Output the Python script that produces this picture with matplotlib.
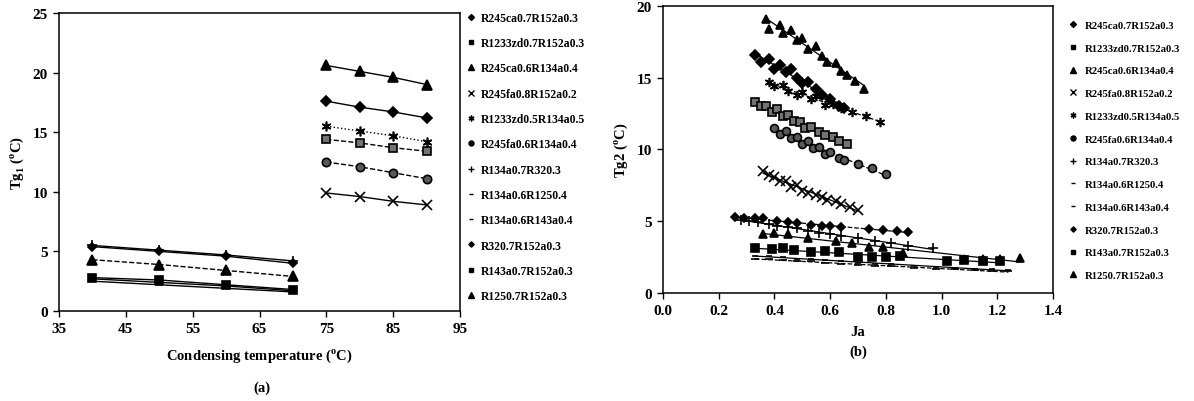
import numpy as np
import matplotlib
matplotlib.use('Agg')
import matplotlib.pyplot as plt
from matplotlib.lines import Line2D

plt.rcParams['font.family'] = 'Liberation Serif'
plt.rcParams['mathtext.fontset'] = 'custom'
plt.rcParams['mathtext.rm'] = 'Liberation Serif'
plt.rcParams['mathtext.bf'] = 'Liberation Serif:bold'

# ---- panel (a): Tg1 vs condensing temperature ----
tc_low = [40, 50, 60, 70]
tc_high = [75, 80, 85, 90]

names_a = ['R245ca0.7R152a0.3', 'R1233zd0.7R152a0.3', 'R245ca0.6R134a0.4',
           'R245fa0.8R152a0.2', 'R1233zd0.5R134a0.5', 'R245fa0.6R134a0.4',
           'R134a0.7R320.3', 'R134a0.6R1250.4', 'R134a0.6R143a0.4',
           'R320.7R152a0.3', 'R143a0.7R152a0.3', 'R1250.7R152a0.3']

tg1_r245ca_r152a = [17.6, 17.1, 16.7, 16.2]
tg1_r1233zd_r152a = [14.4, 14.1, 13.7, 13.4]
tg1_r245ca_r134a = [20.6, 20.1, 19.6, 19.0]
tg1_r245fa_r152a = [9.9, 9.6, 9.2, 8.9]
tg1_r1233zd_r134a = [15.5, 15.1, 14.7, 14.2]
tg1_r245fa_r134a = [12.5, 12.1, 11.6, 11.1]
tg1_r134a_r32 = [5.5, 5.1, 4.7, 4.2]
tg1_r134a_r125 = [2.7, 2.4, 2.1, 1.7]
tg1_r134a_r143a = [2.5, 2.2, 1.9, 1.6]
tg1_r32_r152a = [5.4, 5.0, 4.6, 4.0]
tg1_r143a_r152a = [2.8, 2.6, 2.2, 1.8]
tg1_r125_r152a = [4.3, 3.9, 3.4, 2.9]

# ---- panel (b): Tg2 vs Ja ----
ja_r245ca_r152a = [0.33, 0.35, 0.38, 0.40, 0.42, 0.44, 0.46, 0.48, 0.50, 0.52, 0.55, 0.57, 0.60, 0.63, 0.65]
tg2_r245ca_r152a = [16.6, 16.1, 16.3, 15.6, 15.9, 15.4, 15.6, 15.0, 14.6, 14.7, 14.2, 13.8, 13.5, 13.0, 12.9]
ja_r1233zd_r152a = [0.33, 0.35, 0.37, 0.39, 0.41, 0.43, 0.45, 0.47, 0.49, 0.51, 0.53, 0.56, 0.58, 0.61, 0.63, 0.66]
tg2_r1233zd_r152a = [13.3, 13.0, 13.0, 12.6, 12.8, 12.3, 12.4, 12.0, 11.9, 11.5, 11.6, 11.2, 11.0, 10.9, 10.6, 10.4]
ja_r245ca_r134a = [0.37, 0.38, 0.42, 0.43, 0.46, 0.48, 0.50, 0.52, 0.55, 0.57, 0.59, 0.62, 0.64, 0.66, 0.69, 0.72]
tg2_r245ca_r134a = [19.1, 18.4, 18.7, 18.1, 18.3, 17.6, 17.8, 17.0, 17.2, 16.5, 16.1, 16.0, 15.5, 15.2, 14.8, 14.2]
ja_r245fa_r152a = [0.36, 0.38, 0.40, 0.42, 0.44, 0.46, 0.48, 0.50, 0.52, 0.55, 0.57, 0.59, 0.62, 0.64, 0.67, 0.70]
tg2_r245fa_r152a = [8.5, 8.2, 8.1, 7.8, 7.8, 7.4, 7.5, 7.1, 7.0, 6.8, 6.7, 6.5, 6.4, 6.2, 6.0, 5.8]
ja_r1233zd_r134a = [0.38, 0.40, 0.43, 0.45, 0.48, 0.50, 0.53, 0.55, 0.58, 0.61, 0.64, 0.68, 0.73, 0.78]
tg2_r1233zd_r134a = [14.7, 14.4, 14.5, 14.1, 13.8, 14.0, 13.5, 13.7, 13.1, 13.2, 12.9, 12.6, 12.3, 11.9]
ja_r245fa_r134a = [0.40, 0.42, 0.44, 0.46, 0.48, 0.50, 0.52, 0.54, 0.56, 0.58, 0.60, 0.63, 0.65, 0.70, 0.75, 0.80]
tg2_r245fa_r134a = [11.5, 11.1, 11.3, 10.8, 10.9, 10.4, 10.6, 10.1, 10.2, 9.7, 9.8, 9.4, 9.3, 9.0, 8.7, 8.3]
ja_r134a_r32 = [0.28, 0.31, 0.34, 0.38, 0.41, 0.45, 0.48, 0.52, 0.56, 0.60, 0.64, 0.70, 0.76, 0.82, 0.88, 0.97]
tg2_r134a_r32 = [5.1, 5.0, 4.95, 4.8, 4.7, 4.6, 4.5, 4.35, 4.2, 4.1, 4.0, 3.8, 3.6, 3.45, 3.3, 3.15]
ja_r134a_r125 = [0.33, 0.38, 0.43, 0.48, 0.53, 0.58, 0.64, 0.70, 0.76, 0.82, 0.90, 0.98, 1.05, 1.12, 1.18, 1.24]
tg2_r134a_r125 = [2.6, 2.55, 2.5, 2.4, 2.35, 2.3, 2.2, 2.1, 2.05, 2.0, 1.9, 1.8, 1.75, 1.7, 1.65, 1.6]
ja_r134a_r143a = [0.33, 0.38, 0.43, 0.48, 0.53, 0.58, 0.64, 0.70, 0.76, 0.82, 0.90, 0.98, 1.05, 1.12, 1.18, 1.24]
tg2_r134a_r143a = [2.4, 2.35, 2.3, 2.25, 2.2, 2.1, 2.0, 1.95, 1.9, 1.85, 1.75, 1.7, 1.65, 1.6, 1.55, 1.5]
ja_r32_r152a = [0.26, 0.29, 0.33, 0.36, 0.41, 0.45, 0.48, 0.53, 0.57, 0.60, 0.64, 0.74, 0.79, 0.84, 0.88]
tg2_r32_r152a = [5.3, 5.2, 5.2, 5.2, 5.0, 4.95, 4.9, 4.75, 4.7, 4.65, 4.6, 4.45, 4.4, 4.3, 4.25]
ja_r143a_r152a = [0.33, 0.39, 0.43, 0.47, 0.53, 0.58, 0.63, 0.70, 0.75, 0.80, 0.85, 1.02, 1.08, 1.15, 1.21]
tg2_r143a_r152a = [3.1, 3.05, 3.1, 3.0, 2.85, 2.9, 2.85, 2.5, 2.5, 2.5, 2.6, 2.2, 2.3, 2.2, 2.2]
ja_r125_r152a = [0.36, 0.40, 0.45, 0.52, 0.62, 0.68, 0.74, 0.79, 0.86, 1.08, 1.15, 1.21, 1.28]
tg2_r125_r152a = [4.1, 4.2, 4.1, 3.8, 3.6, 3.5, 3.2, 3.2, 2.8, 2.4, 2.4, 2.4, 2.45]

tg1_data = [tg1_r245ca_r152a, tg1_r1233zd_r152a, tg1_r245ca_r134a, tg1_r245fa_r152a,
            tg1_r1233zd_r134a, tg1_r245fa_r134a, tg1_r134a_r32, tg1_r134a_r125,
            tg1_r134a_r143a, tg1_r32_r152a, tg1_r143a_r152a, tg1_r125_r152a]
tc_data = [tc_high] * 6 + [tc_low] * 6
ja_data = [ja_r245ca_r152a, ja_r1233zd_r152a, ja_r245ca_r134a, ja_r245fa_r152a,
           ja_r1233zd_r134a, ja_r245fa_r134a, ja_r134a_r32, ja_r134a_r125,
           ja_r134a_r143a, ja_r32_r152a, ja_r143a_r152a, ja_r125_r152a]
tg2_data = [tg2_r245ca_r152a, tg2_r1233zd_r152a, tg2_r245ca_r134a, tg2_r245fa_r152a,
            tg2_r1233zd_r134a, tg2_r245fa_r134a, tg2_r134a_r32, tg2_r134a_r125,
            tg2_r134a_r143a, tg2_r32_r152a, tg2_r143a_r152a, tg2_r125_r152a]

# marker styles, one per mixture
markers = ['D', 's', '^', 'x', (6, 2, 0), 'o', '+', '_', '_', 'D', 's', '^']
msizes = [5, 6, 6.5, 7, 7, 6, 7, 4, 6, 4.5, 6, 6.5]
faces = ['black', '0.45', 'black', 'black', 'black', '0.35', 'black', 'black',
         'black', 'black', 'black', 'black']
lstyles_a = ['-', '--', '-', '-', ':', '--', '-', '-', '-', '-', '-', '--']
lstyles_b = ['-', '--', '-', '-', '--', '--', '-', '-', '--', '--', '-', '-']

fig = plt.figure(figsize=(11.94, 4.02), dpi=100)
ax1 = fig.add_axes([0.0494, 0.2239, 0.3359, 0.7413])
ax2 = fig.add_axes([0.5553, 0.2687, 0.3266, 0.7139])

for i in range(len(names_a)):
    ax1.plot(tc_data[i], tg1_data[i], color='black', lw=1.0, ls=lstyles_a[i],
             marker=markers[i], ms=msizes[i], mfc=faces[i], mec='black', mew=1.2)

for i in range(len(names_a)):
    x = np.array(ja_data[i])
    y = np.array(tg2_data[i])
    # trend line through each mixture's points
    k, b = np.polyfit(x, y, 1)
    xs = np.array([x.min(), x.max()])
    ax2.plot(xs, k * xs + b, color='black', lw=0.9, ls=lstyles_b[i])
    ax2.plot(x, y, ls='none', marker=markers[i], ms=msizes[i] * 0.95,
             mfc=faces[i], mec='black', mew=1.2)

ax1.set_xlim(35, 95)
ax1.set_ylim(0, 25)
ax1.set_xticks(range(35, 96, 10))
ax1.set_yticks(range(0, 26, 5))
ax2.set_xlim(0, 1.4)
ax2.set_ylim(0, 20)
ax2.set_xticks(np.arange(0, 1.41, 0.2))
ax2.set_yticks(range(0, 21, 5))
ax2.xaxis.set_major_formatter(plt.FormatStrFormatter('%.1f'))

for ax in (ax1, ax2):
    ax.tick_params(direction='out', length=4, width=1, labelsize=11, pad=4)
    for lab in ax.get_xticklabels() + ax.get_yticklabels():
        lab.set_fontweight('bold')
    for sp in ax.spines.values():
        sp.set_linewidth(1.1)

ax1.set_xlabel(r'Condensing temperature ($^\mathbf{o}$C)', fontsize=10.5, fontweight='bold', labelpad=8)
ax1.set_ylabel(r'Tg$_\mathbf{1}$ ($^\mathbf{o}$C)', fontsize=10.5, fontweight='bold', labelpad=5)
ax2.set_xlabel('Ja', fontsize=10.5, fontweight='bold', labelpad=6)
ax2.set_ylabel(r'Tg2 ($^\mathbf{o}$C)', fontsize=10.5, fontweight='bold', labelpad=5)

fig.text(262 / 1194, 1 - 388 / 402, '(a)', ha='center', va='center', fontsize=10.5, fontweight='bold')
fig.text(858 / 1194, 1 - 352 / 402, '(b)', ha='center', va='center', fontsize=10.5, fontweight='bold')

handles = [Line2D([], [], ls='none', marker=markers[i], ms=msizes[i] * 0.6,
                  mfc='black', mec='black', mew=1.0) for i in range(len(names_a))]

fig.legend(handles, names_a, loc='upper left', bbox_to_anchor=(459 / 1194, 1 - 7 / 402),
           frameon=False, prop={'weight': 'bold', 'size': 8.4}, handlelength=1.0,
           handletextpad=0.4, labelspacing=1.14, borderpad=0, numpoints=1)
fig.legend(handles, names_a, loc='upper left', bbox_to_anchor=(1062 / 1194, 1 - 16 / 402),
           frameon=False, prop={'weight': 'bold', 'size': 7.7}, handlelength=1.0,
           handletextpad=0.65, labelspacing=1.24, borderpad=0, numpoints=1)

fig.savefig('out.png', dpi=100)
